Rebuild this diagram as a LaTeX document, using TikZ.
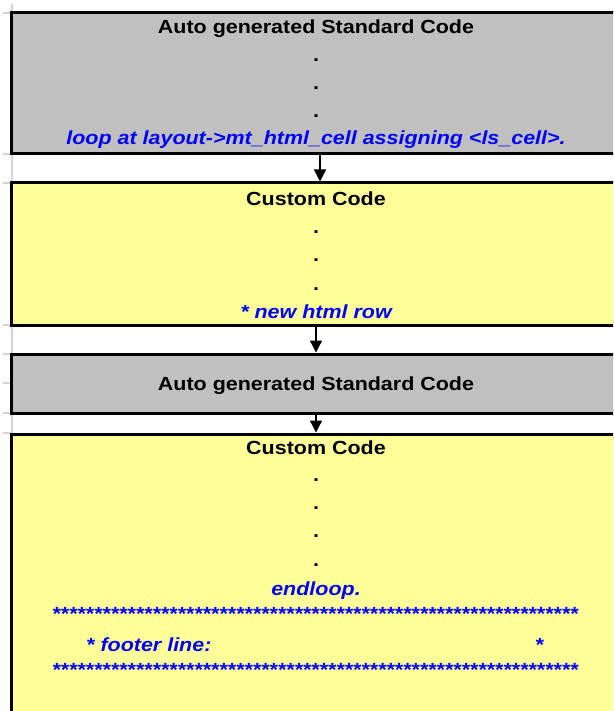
\documentclass[tikz,border=0pt]{standalone}
\usepackage{fontspec}
\setmainfont{Liberation Sans}[FakeStretch=1.13]
\usetikzlibrary{arrows.meta}
\definecolor{stdgray}{HTML}{C0C0C0}
\definecolor{custyellow}{HTML}{FFFF99}
\definecolor{codeblue}{HTML}{0000FF}
\definecolor{gridgray}{HTML}{D4D4D4}
\tikzset{
  codebox/.style={draw=black, line width=3pt, inner sep=0pt, outer sep=0pt,
    minimum width=609pt, anchor=center},
  stdbox/.style={codebox, fill=stdgray},
  custbox/.style={codebox, fill=custyellow},
  title/.style={anchor=base, inner sep=0pt, font=\fontsize{19}{22}\selectfont\bfseries},
  gap/.style={title},
  code/.style={anchor=base, inner sep=0pt, text=codeblue,
    font=\fontsize{19}{22}\selectfont\bfseries\itshape},
  flow/.style={draw=black, line width=1.3pt, shorten <=1.5pt, shorten >=1.5pt,
    -{Triangle[width=12pt,length=12pt]}},
  grid/.style={draw=gridgray, line width=1.5pt}
}
% a row of 63 asterisks
\newcommand\starrow{\foreach \i in {1,...,63}{*}}
\begin{document}
\begin{tikzpicture}[x=1pt,y=-1pt]
  \useasboundingbox (0,0) rectangle (613,711);
  \clip (0,0) rectangle (613,711);
  \fill[white] (0,0) rectangle (613,711);

  % sheet grid at the left margin
  \draw[grid] (12,4) -- (12,711);
  \foreach \r in {13,154,183,325,354,383,413,433}
    \draw[grid] (3,\r) -- (12,\r);

  % code blocks
  \node[stdbox,  minimum height=141pt] (b1) at (316,83.5) {};
  \node[custbox, minimum height=142pt] (b2) at (316,254) {};
  \node[stdbox,  minimum height=59pt]  (b3) at (316,383.5) {};
  \node[custbox, minimum height=306pt] (b4) at (316,587) {};

  % flow between blocks
  \draw[flow] ([xshift=4pt]b1.south) -- ([xshift=4pt]b2.north);
  \draw[flow] (b2.south) -- (b3.north);
  \draw[flow] (b3.south) -- (b4.north);

  % block 1
  \node[title] (t1) at (316,34) {Auto generated Standard Code};
  \node[gap] (d11) at (316,61.5) {.};
  \node[gap] (d12) at (316,89.5) {.};
  \node[gap] (d13) at (316,117.5) {.};
  \node[code] (c1) at (316,145) {loop at layout->mt\_html\_cell assigning <ls\_cell>.};

  % block 2
  \node[title] (t2) at (316,206) {Custom Code};
  \node[gap] (d21) at (316,233.5) {.};
  \node[gap] (d22) at (316,261.5) {.};
  \node[gap] (d23) at (316,290.5) {.};
  \node[code] (c2) at (316,318) {* new html row};

  % block 3
  \node[title] (t3) at (316,390) {Auto generated Standard Code};

  % block 4
  \node[title] (t4) at (316,454) {Custom Code};
  \node[gap] (d41) at (316,481.5) {.};
  \node[gap] (d42) at (316,509.5) {.};
  \node[gap] (d43) at (316,537.5) {.};
  \node[gap] (d44) at (316,566.5) {.};
  \node[code] (c4) at (316,595) {endloop.};
  \node[code] (s1) at (315,620) {\starrow};
  \node[code, anchor=base west] (f1) at (86,651) {* footer line:};
  \node[code] (f2) at (539,651) {*};
  \node[code] (s2) at (315,676) {\starrow};
\end{tikzpicture}
\end{document}
